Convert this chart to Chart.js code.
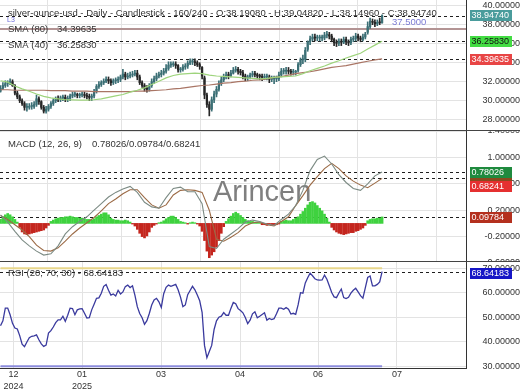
<!DOCTYPE html>
<html><head><meta charset="utf-8">
<script src="https://cdn.jsdelivr.net/npm/chart.js@4.4.0/dist/chart.umd.min.js"></script>
<style>
html,body{margin:0;padding:0;background:#fff;}
#wrap{position:relative;width:520px;height:390px;overflow:hidden;background:#fff;}
canvas{position:absolute;left:0;}
</style></head><body>
<div id="wrap">
<canvas id="c1" width="520" height="131" style="top:0px"></canvas>
<canvas id="c2" width="520" height="131" style="top:131px"></canvas>
<canvas id="c3" width="520" height="128" style="top:262px"></canvas>
</div>
<script>
// ---------- DATA ----------
const seriesName = 'silver-ounce-usd';
const opens = [
31.0,31.3,31.6,31.8,31.9,32.0,31.6,30.8,30.4,30.0,
29.7,29.3,29.3,29.4,29.4,29.6,30.2,29.9,29.3,28.9,
29.1,29.4,29.7,30.0,30.2,30.15,30.3,30.35,30.15,30.25,
30.5,30.65,30.65,30.55,30.6,30.65,30.55,30.45,30.35,30.5,
31.0,31.5,31.7,31.9,32.05,32.25,32.1,31.9,32.1,32.15,
32.25,32.5,32.8,32.5,32.6,32.7,32.8,32.9,32.5,31.9,
31.6,31.25,31.2,31.6,32.0,32.3,32.6,32.75,32.9,33.1,
33.4,33.75,33.8,33.85,33.7,33.25,33.3,33.55,33.65,33.95,
34.1,34.1,34.0,33.8,33.5,32.4,30.6,29.6,29.1,30.1,
30.7,31.2,31.8,32.2,32.5,32.7,32.65,32.9,33.2,33.3,
33.1,32.95,32.6,32.4,32.5,32.7,32.85,32.75,32.6,32.55,
32.45,32.5,32.5,32.25,32.3,32.3,32.3,32.7,33.1,33.1,
33.2,33.1,33.0,33.0,33.2,33.8,34.3,34.35,35.4,36.2,
36.5,36.7,36.6,36.6,36.6,36.6,36.9,36.95,36.8,36.45,
36.1,36.05,36.25,36.15,36.45,36.2,36.1,36.45,36.55,36.8,
36.6,36.45,36.7,37.2,37.8,38.35,38.25,38.1,38.25,38.1908];
const highs = [
31.6,31.9,32.1,32.1,32.3,32.2,31.7,31.0,30.6,30.2,
29.9,29.7,29.7,29.8,29.9,30.6,30.4,30.0,29.5,29.4,
29.6,29.9,30.2,30.4,30.5,30.5,30.6,30.6,30.5,30.7,
30.9,30.9,30.8,30.8,30.9,30.9,30.8,30.7,30.7,31.2,
31.7,32.0,32.1,32.3,32.5,32.5,32.3,32.3,32.4,32.5,
32.7,33.3,33.0,32.9,33.0,33.1,33.2,33.2,32.7,32.1,
31.8,31.6,31.8,32.3,32.6,32.9,33.0,33.2,33.4,33.8,
34.1,34.1,34.1,34.1,33.8,33.5,33.8,33.9,34.2,34.4,
34.4,34.4,34.2,34.0,33.6,32.6,30.8,29.9,30.4,31.0,
31.5,32.1,32.5,32.8,33.0,33.0,33.2,33.5,33.6,33.5,
33.3,33.2,32.8,32.7,32.9,33.1,33.1,32.9,32.8,32.8,
32.8,32.8,32.7,32.6,32.6,32.6,33.0,33.4,33.4,33.5,
33.5,33.3,33.3,33.2,34.0,34.5,34.8,35.6,36.3,36.8,
37.0,37.0,36.9,36.9,36.9,37.2,37.3,37.2,37.0,36.6,
36.4,36.5,36.5,36.7,36.7,36.4,36.7,36.8,37.1,37.0,
36.8,37.0,37.2,38.3,38.7,38.6,38.5,38.5,38.7,39.0482];
const lows = [
30.9,31.2,31.4,31.5,31.7,31.5,30.6,30.2,29.8,29.5,
29.0,28.9,29.1,29.1,29.2,29.4,29.6,29.1,28.7,28.7,
28.9,29.2,29.5,29.8,29.9,29.9,30.0,29.9,29.9,30.0,
30.3,30.4,30.3,30.3,30.4,30.3,30.2,30.0,30.0,30.3,
30.8,31.3,31.5,31.7,31.9,31.8,31.6,31.7,31.8,31.9,
32.0,32.3,32.2,32.3,32.4,32.5,32.6,32.2,31.7,31.4,
31.0,30.9,31.0,31.4,31.8,32.1,32.4,32.5,32.7,32.9,
33.2,33.5,33.6,33.4,33.0,33.0,33.1,33.3,33.4,33.8,
33.8,33.7,33.6,33.3,32.3,30.2,29.3,28.4,28.9,29.8,
30.4,31.0,31.6,32.0,32.3,32.3,32.5,32.8,33.0,32.8,
32.7,32.3,32.1,32.1,32.3,32.5,32.5,32.3,32.2,32.1,
32.2,32.2,31.9,32.0,31.8,32.0,32.1,32.5,32.8,32.8,
32.8,32.7,32.7,32.7,33.0,33.6,33.9,34.1,35.2,35.9,
36.3,36.3,36.3,36.3,36.3,36.4,36.6,36.5,36.2,35.8,
35.7,35.8,35.8,36.0,35.9,35.8,35.9,36.2,36.3,36.3,
36.2,36.3,36.5,37.0,37.6,38.0,37.8,37.9,38.0,38.1496];
const closes = [
31.3,31.6,31.8,31.9,32.0,31.6,30.8,30.4,30.0,29.7,
29.3,29.3,29.4,29.4,29.6,30.2,29.9,29.3,28.9,29.1,
29.4,29.7,30.0,30.2,30.15,30.3,30.35,30.15,30.25,30.5,
30.65,30.65,30.55,30.6,30.65,30.55,30.45,30.35,30.5,31.0,
31.5,31.7,31.9,32.05,32.25,32.1,31.9,32.1,32.15,32.25,
32.5,32.8,32.5,32.6,32.7,32.8,32.9,32.5,31.9,31.6,
31.25,31.2,31.6,32.0,32.3,32.6,32.75,32.9,33.1,33.4,
33.75,33.8,33.85,33.7,33.25,33.3,33.55,33.65,33.95,34.1,
34.1,34.0,33.8,33.6,32.6,30.6,29.6,29.1,30.1,30.7,
31.2,31.8,32.2,32.5,32.7,32.65,32.9,33.2,33.3,33.1,
32.95,32.6,32.4,32.5,32.7,32.85,32.75,32.6,32.55,32.45,
32.5,32.5,32.25,32.3,32.3,32.3,32.7,33.1,33.1,33.2,
33.1,33.0,33.0,33.0,33.8,34.3,34.35,35.3,36.2,36.5,
36.7,36.6,36.6,36.6,36.6,36.9,36.95,36.8,36.45,36.1,
36.05,36.25,36.15,36.45,36.2,36.1,36.45,36.55,36.8,36.6,
36.45,36.7,37.0,37.8,38.35,38.25,38.1,38.25,38.2,38.9474];
// moving averages, MACD and signal sampled every 3 bars
const sampleStep = 3;
const sma40 = [
32.1,31.95,31.55,31.25,31.0,30.7,30.45,30.3,30.2,30.1,
30.08,30.05,30.05,30.1,30.2,30.35,30.5,30.65,30.9,31.1,
31.35,31.7,32.05,32.4,32.65,32.8,32.85,32.9,32.85,32.7,
32.6,32.55,32.5,32.45,32.4,32.35,32.3,32.35,32.45,32.5,
32.55,32.6,32.85,33.15,33.4,33.65,33.95,34.2,34.5,34.75,
35.0,35.45,35.85,36.2583];
const sma80 = [
31.15,31.15,31.1,31.1,31.1,31.1,31.1,31.05,31.05,31.05,
31.0,31.0,31.0,30.95,30.95,30.95,30.95,30.95,30.95,31.0,
31.0,31.05,31.1,31.15,31.25,31.3,31.4,31.5,31.6,31.65,
31.75,31.85,31.9,32.0,32.05,32.15,32.2,32.3,32.45,32.55,
32.7,32.85,32.95,33.05,33.2,33.35,33.5,33.6,33.7,33.85,
34.0,34.15,34.3,34.39635];
const macdLine = [
0.13,0.02,-0.12,-0.25,-0.34,-0.42,-0.48,-0.46,-0.34,-0.16,
-0.05,0.03,0.1,0.2,0.3,0.4,0.47,0.52,0.56,0.47,
0.32,0.25,0.23,0.39,0.53,0.55,0.48,0.48,0.3,-0.35,
-0.38,-0.24,-0.16,-0.08,0.02,0.05,0.03,-0.01,-0.03,0.06,
0.14,0.27,0.5,0.8,0.97,1.02,0.9,0.74,0.62,0.53,
0.5,0.6,0.72,0.78026];
const signalLine = [
0.12,0.06,-0.02,-0.1,-0.2,-0.33,-0.41,-0.42,-0.37,-0.27,
-0.16,-0.07,0.01,0.09,0.19,0.3,0.37,0.45,0.51,0.51,
0.39,0.28,0.23,0.28,0.43,0.5,0.51,0.5,0.47,0.2,
-0.24,-0.27,-0.21,-0.14,-0.04,0.01,0.02,-0.02,-0.04,0.03,
0.1,0.27,0.42,0.58,0.71,0.83,0.91,0.83,0.72,0.64,
0.58,0.54,0.61,0.68241];
const macdHist = [
0.06,0.1,0.13,0.15,0.13,0.1,0.06,0.02,-0.06,-0.13,
-0.16,-0.17,-0.16,-0.15,-0.14,-0.13,-0.12,-0.11,-0.1,-0.07,
-0.03,0.03,0.05,0.07,0.08,0.09,0.09,0.1,0.1,0.11,
0.1,0.09,0.09,0.08,0.08,0.07,0.06,0.06,0.05,0.07,
0.1,0.12,0.14,0.16,0.16,0.13,0.08,0.06,0.05,0.05,
0.04,0.04,0.05,0.04,0.02,-0.01,-0.04,-0.09,-0.15,-0.2,
-0.22,-0.19,-0.13,-0.06,-0.03,-0.01,0.01,0.02,0.04,0.07,
0.09,0.11,0.11,0.09,0.06,0.03,0.02,0.01,-0.01,0.01,
0.02,0.01,-0.01,-0.04,-0.12,-0.26,-0.42,-0.52,-0.48,-0.43,
-0.36,-0.26,-0.15,-0.05,0.03,0.07,0.11,0.15,0.17,0.15,
0.12,0.09,0.06,0.04,0.03,0.03,0.02,0.02,0.01,-0.02,
-0.02,-0.03,-0.02,-0.03,-0.02,-0.02,-0.01,0.03,0.04,0.05,
0.04,0.04,0.06,0.08,0.1,0.14,0.18,0.23,0.28,0.32,
0.33,0.31,0.27,0.23,0.19,0.14,0.08,0.02,-0.06,-0.1,
-0.13,-0.15,-0.16,-0.17,-0.16,-0.15,-0.14,-0.14,-0.12,-0.11,
-0.09,-0.07,-0.03,0.04,0.06,0.07,0.07,0.08,0.08,0.09784];
const rsi = [
46.5,48.5,53.7,53.7,51,47.5,45.6,45.2,42.5,39,
38,39.9,41.6,42.2,42.4,42.8,40.8,39.1,38.1,38.6,
43.5,44.5,46,47.8,48.9,48.9,50.4,48.3,50.8,53.7,
53.5,51,53,53.4,53.5,51.6,49.7,49.8,53,55.3,
57.7,57.9,59.8,62.6,63.3,61,59,59.5,58.7,61,
59.5,60.3,62.5,63.1,62.1,62.8,59,54.3,51.5,49.8,
47.1,48.6,51.5,55,57,57.7,56.3,54,59.6,62.2,
63.1,62.6,63,63.4,61.2,58.2,54.3,55,59.2,60.9,
62.6,61.2,59.1,56.7,52,38.5,33.5,36,38.5,45,
48.5,50,50.4,51.9,50.8,50.8,53.6,56,55.5,53.5,
52.7,51.8,49.9,47.4,48.8,51.4,52.2,49.8,50.4,51.1,
51.8,48.8,49.5,49,49.4,51.4,53.7,53.7,53.2,53.9,
53.3,51.3,51.6,51.2,55,60,59.8,64,66.1,68,
66.9,65.7,65.2,65.1,65.2,67.2,65.5,62.8,60.1,58.3,
58,59.9,61.5,58,57.6,58.1,59.8,61,61.8,60.3,
58.8,57.8,62,66.2,66.8,62.8,62.8,63.4,64.4,68.64183];
const rsiLevels = [70, 30];
const lineLevel = 37.5;          // horizontal line "L3"
const monthTickIdx = [5.4, 34, 66.9, 99.8, 132.3, 165.2];
const monthLabels = [['12','2024'], ['01','2025'], '03', '04', '06', '07'];
const priceTicks = [28, 30, 32, 34, 36, 38, 40];
const macdTicks = [-0.6, -0.4, -0.2, 0, 0.2, 0.4, 0.6, 0.8, 1.0, 1.2, 1.4];
const rsiTicks = [30, 40, 50, 60, 70];

// ---------- helpers ----------
const FONT = "'Liberation Sans', Arial, sans-serif";
Chart.defaults.font.family = FONT;
const N = closes.length;
const idx = closes.map((_, i) => i);
const last = N - 1;
const X_MIN = -0.21, X_MAX = 193.96;
const PLOT_R = 466;
const toXY = (vals, step) => vals.map((v, k) => ({x: k * step, y: v}));
const candleColors = idx.map(i => closes[i] >= opens[i] ? '#3b6f75' : '#262626');
const f5 = v => v.toFixed(5);

function xScale(show) {
  return {
    type: 'linear', min: X_MIN, max: X_MAX, offset: false,
    afterBuildTicks: s => { s.ticks = monthTickIdx.map(v => ({value: v})); },
    grid: {color: '#e3e3e3', drawTicks: false},
    border: {display: show, color: '#333'},
    ticks: {display: show, autoSkip: false, maxRotation: 0, padding: 1, color: '#333',
      font: {size: 9, lineHeight: 1.33}, callback: (v, i) => monthLabels[i]},
    afterFit: s => { s.paddingLeft = 0; s.paddingRight = 0; s.height = show ? 22 : 0; }
  };
}
function yScale(min, max, tickVals, pad) {
  return {
    type: 'linear', position: 'right', min, max,
    afterBuildTicks: s => { s.ticks = tickVals.map(v => ({value: v})); },
    grid: {color: '#e3e3e3', drawTicks: false},
    border: {display: true, color: '#333'},
    ticks: {crossAlign: 'far', padding: pad, color: '#333', font: {size: 9},
      callback: v => f5(v)},
    afterFit: s => { s.width = 520 - PLOT_R; s.paddingTop = 0; s.paddingBottom = 0; }
  };
}
const baseOpts = {responsive: false, animation: false, devicePixelRatio: 1, events: [],
  layout: {padding: 0}, plugins: {legend: {display: false}, tooltip: {enabled: false}}};

function hl(ctx, y, x0, x1, color, w, dash) {
  ctx.save(); ctx.beginPath(); ctx.setLineDash(dash || []); ctx.strokeStyle = color; ctx.lineWidth = w;
  const yy = w % 2 ? Math.round(y) + 0.5 : Math.round(y);
  ctx.moveTo(x0, yy); ctx.lineTo(x1, yy); ctx.stroke(); ctx.restore();
}
function txt(ctx, s, x, y, color, size) {
  ctx.save(); ctx.font = size + 'px ' + FONT; ctx.fillStyle = color;
  ctx.textBaseline = 'middle'; ctx.textAlign = 'left'; ctx.fillText(s, x, y); ctx.restore();
}
function tag(ctx, y, s, bg, fg) {
  ctx.save(); ctx.fillStyle = bg; ctx.fillRect(470, Math.round(y) - 5, 42, 11);
  if (s) txt(ctx, s, 471.5, Math.round(y) + 0.5, fg, 9);
  ctx.restore();
}

// ---------- panel 1 : price ----------
new Chart(document.getElementById('c1'), {
  type: 'bar',
  data: {datasets: [
    {type: 'bar', data: idx.map(i => ({x: i, y: [lows[i], highs[i]]})), backgroundColor: candleColors,
      barThickness: 1, grouped: false, order: 4},
    {type: 'bar', data: idx.map(i => ({x: i, y: [opens[i], closes[i]]})), backgroundColor: candleColors,
      barThickness: 1.6, minBarLength: 1, grouped: false, order: 3},
    {type: 'line', data: toXY(sma80, sampleStep), borderColor: '#a97565', borderWidth: 1.2, pointRadius: 0, order: 2},
    {type: 'line', data: toXY(sma40, sampleStep), borderColor: '#9ed47c', borderWidth: 1.2, pointRadius: 0, order: 1}
  ]},
  options: Object.assign({}, baseOpts, {scales: {x: xScale(false), y: yScale(26.81, 40.6, priceTicks, 9.5)}}),
  plugins: [{
    id: 'p1',
    beforeDatasetsDraw(c) {
      const ctx = c.ctx, y = c.scales.y;
      hl(ctx, y.getPixelForValue(lineLevel), 0, PLOT_R, '#b39494', 2);
      [closes[last], sma40[sma40.length - 1], sma80[sma80.length - 1]].forEach(v =>
        hl(ctx, y.getPixelForValue(v), 0, PLOT_R, '#1e1e1e', 1, [3, 3]));
    },
    afterDraw(c) {
      const ctx = c.ctx, y = c.scales.y;
      txt(ctx, seriesName + ' - Daily - Candlestick - 160/240 - O:' + f5(opens[last]) + ' - H:' + f5(highs[last]) +
        ' - L:' + f5(lows[last]) + ' - C:' + f5(closes[last]), 8, 13, '#333', 9.5);
      txt(ctx, 'L3', 7, 20, '#6f6fdc', 7);
      txt(ctx, 'SMA (80)', 8, 29.5, '#333', 9.5); txt(ctx, f5(sma80[sma80.length - 1]), 57, 29.5, '#333', 9.5);
      txt(ctx, 'SMA (40)', 8, 45.5, '#333', 9.5); txt(ctx, f5(sma40[sma40.length - 1]), 57, 45.5, '#333', 9.5);
      txt(ctx, lineLevel.toFixed(4), 392, 22.5, '#7b7bd4', 9.5);
      tag(ctx, y.getPixelForValue(closes[last]) - 1, f5(closes[last]), '#4a9c9c', '#fff');
      tag(ctx, y.getPixelForValue(sma40[sma40.length - 1]), f5(sma40[sma40.length - 1]), '#43dc43', '#111');
      tag(ctx, y.getPixelForValue(sma80[sma80.length - 1]), f5(sma80[sma80.length - 1]), '#e84545', '#fff');
      hl(ctx, 130, 0, 520, '#444', 1);
    }
  }]
});

// ---------- panel 2 : MACD ----------
new Chart(document.getElementById('c2'), {
  type: 'bar',
  data: {datasets: [
    {type: 'bar', data: idx.map(i => ({x: i, y: macdHist[i]})),
      backgroundColor: macdHist.map(v => v >= 0 ? '#3fd23f' : '#c4261e'), barThickness: 2, grouped: false, order: 3},
    {type: 'line', data: toXY(signalLine, sampleStep), borderColor: '#9b6a45', borderWidth: 1.1, pointRadius: 0, order: 2},
    {type: 'line', data: toXY(macdLine, sampleStep), borderColor: '#7c8b84', borderWidth: 1.1, pointRadius: 0, order: 1}
  ]},
  options: Object.assign({}, baseOpts, {scales: {x: xScale(false), y: yScale(-0.585, 1.4, macdTicks, 6.5)}}),
  plugins: [{
    id: 'p2',
    beforeDatasetsDraw(c) {
      const ctx = c.ctx, y = c.scales.y;
      ctx.save(); ctx.font = '29px ' + FONT; ctx.fillStyle = 'rgba(105,105,105,0.85)';
      ctx.textBaseline = 'middle'; ctx.fillText('Arincen', 213, 62); ctx.restore();
      [macdLine[macdLine.length - 1], signalLine[signalLine.length - 1], macdHist[last]].forEach(v =>
        hl(ctx, y.getPixelForValue(v), 0, PLOT_R, '#1e1e1e', 1, [3, 3]));
    },
    afterDraw(c) {
      const ctx = c.ctx, y = c.scales.y;
      const m = macdLine[macdLine.length - 1], s = signalLine[signalLine.length - 1], h = macdHist[last];
      txt(ctx, 'MACD (12, 26, 9)', 8, 13, '#333', 9.5);
      txt(ctx, f5(m) + '/' + f5(h) + '/' + f5(s), 92, 13, '#333', 9.5);
      tag(ctx, y.getPixelForValue(s), '', '#8a4a1e', '#fff');
      tag(ctx, y.getPixelForValue(m), f5(m), '#1f8a3e', '#fff');
      tag(ctx, y.getPixelForValue(s) + 8, f5(s), '#e53030', '#fff');
      tag(ctx, y.getPixelForValue(h), f5(h), '#b4301e', '#fff');
      hl(ctx, 130, 0, 520, '#444', 1);
    }
  }]
});

// ---------- panel 3 : RSI ----------
new Chart(document.getElementById('c3'), {
  type: 'line',
  data: {datasets: [
    {data: [{x: 0, y: rsiLevels[0]}, {x: last, y: rsiLevels[0]}], borderColor: '#e8d78c', borderWidth: 2, pointRadius: 0},
    {data: [{x: 0, y: rsiLevels[1]}, {x: last, y: rsiLevels[1]}], borderColor: '#8c8cdc', borderWidth: 2, pointRadius: 0},
    {data: idx.map(i => ({x: i, y: rsi[i]})), borderColor: '#3a3a9e', borderWidth: 1.3, pointRadius: 0}
  ]},
  options: Object.assign({}, baseOpts, {scales: {x: xScale(true), y: yScale(29.27, 72.53, rsiTicks, 9.5)}}),
  plugins: [{
    id: 'p3',
    beforeDatasetsDraw(c) {
      hl(c.ctx, c.scales.y.getPixelForValue(rsi[last]), 0, PLOT_R, '#1e1e1e', 1, [3, 3]);
    },
    afterDraw(c) {
      const ctx = c.ctx, y = c.scales.y;
      txt(ctx, 'RSI (20; 70; 30) - ' + f5(rsi[last]), 8, 11.5, '#333', 9.5);
      tag(ctx, y.getPixelForValue(rsi[last]) + 1, f5(rsi[last]), '#1616c6', '#fff');
    }
  }]
});
</script>
</body></html>
